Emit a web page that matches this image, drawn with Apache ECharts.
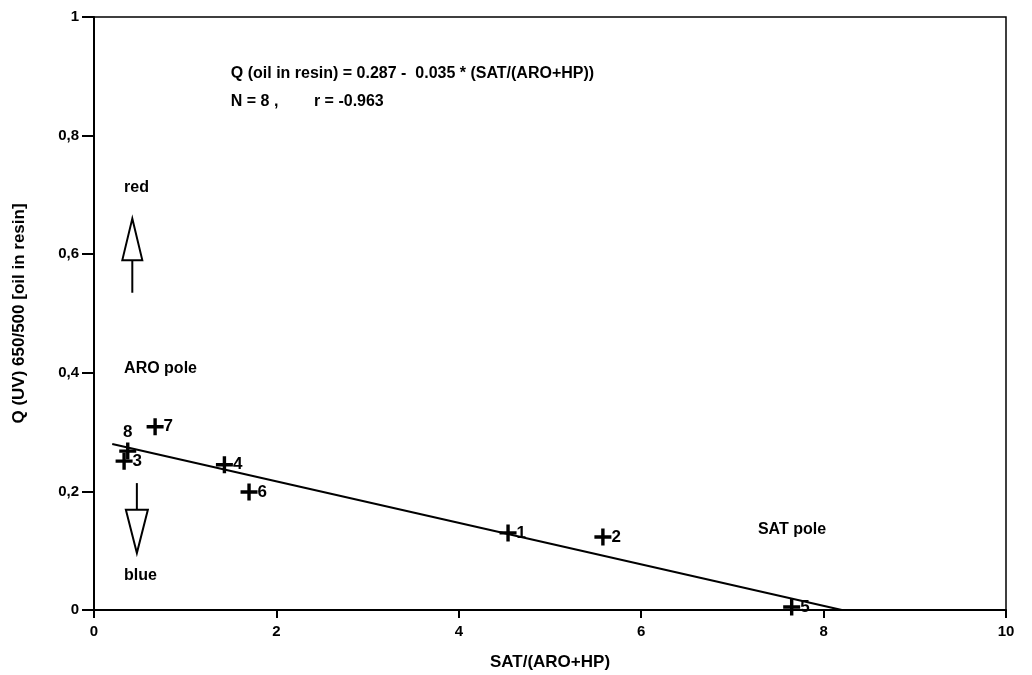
<!DOCTYPE html>
<html>
<head>
<meta charset="utf-8">
<script src="https://cdn.jsdelivr.net/npm/echarts@6/dist/echarts.min.js"></script>
<style>
  html, body { margin: 0; padding: 0; background: #fff; }
  #chart { width: 1032px; height: 675px; }
</style>
</head>
<body>
<div id="chart"></div>
<script>
// 样品数据
const sampleIds = ['1', '2', '3', '4', '5', '6', '7', '8'];
const satRatio = [4.54, 5.58, 0.33, 1.43, 7.65, 1.70, 0.67, 0.37];
const qValues = [0.130, 0.123, 0.251, 0.245, 0.005, 0.199, 0.309, 0.268];
const labelPos = ['right', 'right', 'right', 'right', 'right', 'right', 'right', 'top'];

// 回归线 Q = 0.287 - 0.035 * x
const fitX = [0.2, 8.2];
const fitY = [0.280, 0.0];

const xTicks = [0, 2, 4, 6, 8, 10];
const yTicks = ['0', '0,2', '0,4', '0,6', '0,8', '1'];

const font = '"Liberation Sans", Arial, sans-serif';
const plusPath = 'path://M0,4H10V6H0Z M4,0H6V10H4Z';

const chart = echarts.init(document.getElementById('chart'));

const textStyle = { fontFamily: font, fontWeight: 'bold', color: '#000' };

chart.setOption({
    backgroundColor: '#fff',
    animation: false,
    textStyle: textStyle,
    grid: {
        left: 94, right: 26, top: 17, bottom: 65,
        outerBoundsMode: 'none', containLabel: false,
        show: true, borderColor: '#000', borderWidth: 1.5, backgroundColor: 'transparent'
    },
    xAxis: {
        type: 'value', min: 0, max: 10, interval: 2,
        name: 'SAT/(ARO+HP)', nameLocation: 'middle', nameGap: 44,
        nameTextStyle: { ...textStyle, fontSize: 17 },
        axisLine: { show: true, lineStyle: { color: '#000', width: 2 } },
        axisTick: { show: true, length: 8, lineStyle: { color: '#000', width: 2 } },
        axisLabel: { ...textStyle, fontSize: 15, margin: 14,
            formatter: v => String(xTicks[xTicks.indexOf(v)]) },
        splitLine: { show: false }
    },
    yAxis: {
        type: 'value', min: 0, max: 1, interval: 0.2,
        name: 'Q (UV) 650/500 [oil in resin]', nameLocation: 'middle', nameGap: 66,
        nameTextStyle: { ...textStyle, fontSize: 17 },
        axisLine: { show: true, lineStyle: { color: '#000', width: 2 } },
        axisTick: { show: true, length: 12, lineStyle: { color: '#000', width: 2 } },
        axisLabel: { ...textStyle, fontSize: 15, margin: 15,
            formatter: v => yTicks[Math.round(v * 5)] },
        splitLine: { show: false }
    },
    series: [
        {
            type: 'line',
            data: fitX.map((x, i) => [x, fitY[i]]),
            symbol: 'none',
            lineStyle: { color: '#000', width: 2 },
            z: 2
        },
        {
            type: 'scatter',
            symbol: plusPath,
            symbolSize: 17,
            itemStyle: { color: '#000', opacity: 1 },
            data: satRatio.map((x, i) => ({
                value: [x, qValues[i]],
                label: {
                    show: true, formatter: sampleIds[i], position: labelPos[i],
                    distance: labelPos[i] === 'top' ? 2 : 0,
                    ...textStyle, fontSize: 17, opacity: 1
                }
            })),
            z: 3
        }
    ]
});

// 注释文字（数据坐标）
const notes = [
    { text: 'Q (oil in resin) = 0.287 -  0.035 * (SAT/(ARO+HP))', x: 1.5, y: 0.905 },
    { text: 'N = 8 ,        r = -0.963', x: 1.5, y: 0.858 },
    { text: 'red', x: 0.33, y: 0.712 },
    { text: 'ARO pole', x: 0.33, y: 0.407 },
    { text: 'blue', x: 0.33, y: 0.058 },
    { text: 'SAT pole', x: 7.28, y: 0.135 }
];

// 箭头: 顶点、底边、杆端 (数据坐标)
const arrows = [
    { x: 0.42, tip: 0.660, base: 0.59, tail: 0.535, halfW: 10 },
    { x: 0.47, tip: 0.096, base: 0.169, tail: 0.214, halfW: 11 }
];

const px = (x, y) => chart.convertToPixel({ gridIndex: 0 }, [x, y]);

const graphics = [];
notes.forEach(n => {
    const p = px(n.x, n.y);
    graphics.push({
        type: 'text', x: p[0], y: p[1],
        style: { text: n.text, font: 'bold 16px ' + font, fill: '#000', textVerticalAlign: 'middle' }
    });
});
arrows.forEach(a => {
    const tip = px(a.x, a.tip), base = px(a.x, a.base), tail = px(a.x, a.tail);
    graphics.push({
        type: 'line',
        shape: { x1: base[0], y1: base[1], x2: tail[0], y2: tail[1] },
        style: { stroke: '#000', lineWidth: 2 }
    });
    graphics.push({
        type: 'polygon',
        shape: { points: [[tip[0], tip[1]], [base[0] - a.halfW, base[1]], [base[0] + a.halfW, base[1]]] },
        style: { fill: '#fff', stroke: '#000', lineWidth: 2 }
    });
});
chart.setOption({ graphic: graphics });
</script>
</body>
</html>
